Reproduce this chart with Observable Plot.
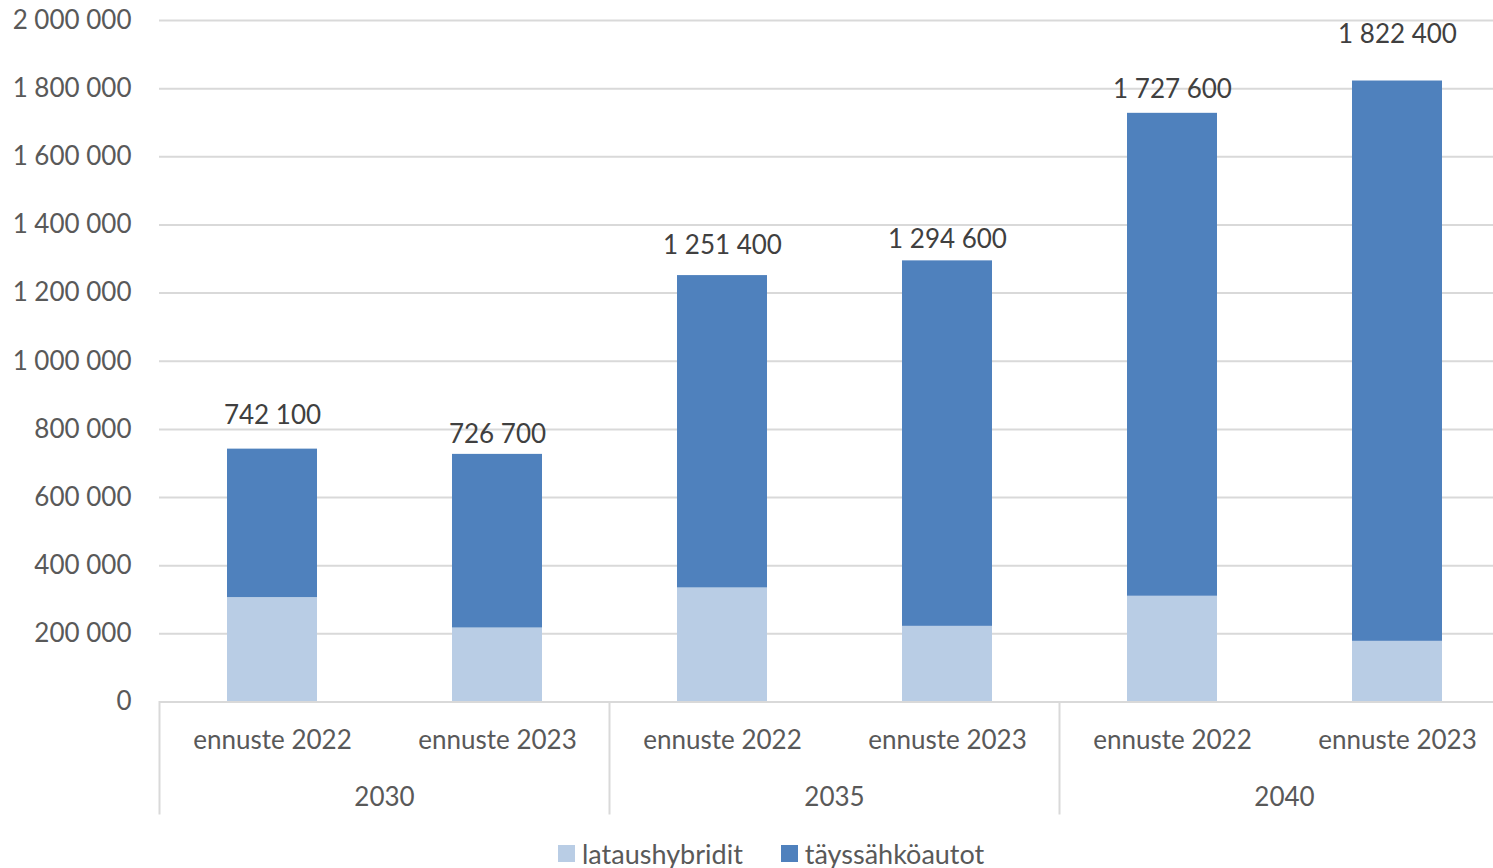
<!DOCTYPE html>
<html>
<head>
<meta charset="utf-8">
<script src="https://cdn.jsdelivr.net/npm/d3@7"></script>
<script src="https://cdn.jsdelivr.net/npm/@observablehq/plot@0.6"></script>
<style>
  body { margin: 0; background: #fff; font-family: Lato, "Open Sans", sans-serif; }
  #legend { height: 46px; display: flex; align-items: center; padding-left: 558px; font-size: 27px; color: #595959; }
  .item { display: flex; align-items: center; margin-right: 38px; }
  .sw { width: 17px; height: 17px; margin-right: 7px; }
</style>
</head>
<body>
<div id="chart"></div>
<div id="legend"></div>
<script>
const years = ["2030", "2035", "2040"];
const forecasts = ["ennuste 2022", "ennuste 2023"];
const seriesNames = ["lataushybridit", "täyssähköautot"];
const seriesColors = ["#B9CDE5", "#4F81BD"];
// per bar, order: 2030 e2022, 2030 e2023, 2035 e2022, 2035 e2023, 2040 e2022, 2040 e2023
const hybrids = [306500, 217100, 334700, 222000, 310300, 178000];
const totals = [742100, 726700, 1251400, 1294600, 1727600, 1822400];
const yTicks = [0, 200000, 400000, 600000, 800000, 1000000, 1200000, 1400000, 1600000, 1800000, 2000000];
// manual label nudges (px above bar top), as in the original chart
const labelNudges = [33, 20, 30, 21, 24, 46];

const fmt = v => d3.format(",")(v).replace(/,/g, " ");

const bars = totals.map((t, i) => ({
  year: years[Math.floor(i / 2)],
  forecast: forecasts[i % 2],
  total: t,
  hybrid: hybrids[i],
  nudge: labelNudges[i]
}));
const rows = bars.flatMap(b => [
  {year: b.year, forecast: b.forecast, series: seriesNames[0], value: b.hybrid},
  {year: b.year, forecast: b.forecast, series: seriesNames[1], value: b.total - b.hybrid}
]);
const yearRows = years.map(y => ({year: y}));

const chart = Plot.plot({
  width: 1493,
  height: 830,
  marginTop: 20,
  marginBottom: 128.5,
  marginLeft: 159,
  marginRight: -16,
  style: {fontFamily: "Lato, 'Open Sans', sans-serif", fontSize: "26px", background: "#fff"},
  fx: {domain: years, padding: 0, axis: null},
  x: {domain: forecasts, paddingInner: 0.6, paddingOuter: 0.3, axis: null},
  y: {domain: [0, 2000000], axis: null},
  color: {domain: seriesNames, range: seriesColors},
  marks: [
    Plot.gridY(yTicks, {stroke: "#d9d9d9", strokeOpacity: 1, strokeWidth: 2}),
    Plot.barY(rows, {fx: "year", x: "forecast", y: "value", fill: "series"}),
    Plot.ruleY([0], {stroke: "#d9d9d9", strokeWidth: 2}),
    Plot.frame({anchor: "left", stroke: "#d9d9d9", strokeWidth: 2, insetTop: 681.5, insetBottom: -111.5}),
    Plot.axisY({ticks: yTicks, tickSize: 0, tickPadding: 28, tickFormat: fmt, fill: "#595959", fontSize: 26, label: null}),
    ...bars.map(b => Plot.text([b], {fx: "year", x: "forecast", y: "total", text: d => fmt(d.total), dy: -b.nudge, fill: "#404040", fontSize: 26})),
    Plot.text(bars, {fx: "year", x: "forecast", text: "forecast", frameAnchor: "bottom", dy: 46.5, fill: "#595959", fontSize: 26}),
    Plot.text(yearRows, {fx: "year", text: "year", frameAnchor: "bottom", dy: 103.5, fill: "#595959", fontSize: 26})
  ]
});
document.getElementById("chart").appendChild(chart);

const legend = document.getElementById("legend");
seriesNames.forEach((name, i) => {
  const item = document.createElement("div");
  item.className = "item";
  const sw = document.createElement("div");
  sw.className = "sw";
  sw.style.background = seriesColors[i];
  const label = document.createElement("span");
  label.textContent = name;
  item.appendChild(sw);
  item.appendChild(label);
  legend.appendChild(item);
});
</script>
</body>
</html>
